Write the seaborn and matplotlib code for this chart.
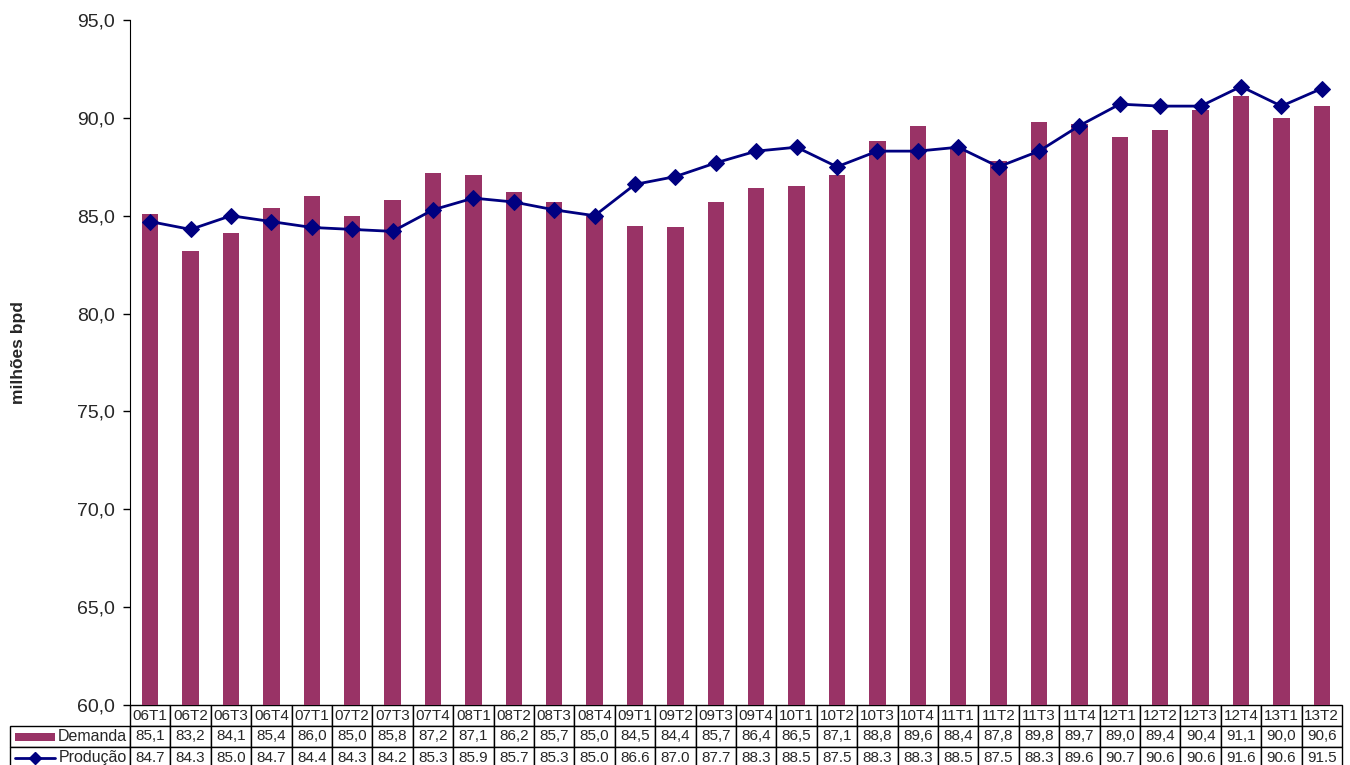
import numpy as np
import matplotlib
matplotlib.use("Agg")
import matplotlib.pyplot as plt
import seaborn as sns
from matplotlib.patches import Rectangle
from matplotlib.lines import Line2D
from matplotlib.ticker import FuncFormatter

# ==========================================
# dados (milhões bpd)
# ==========================================
trimestres = ["06T1", "06T2", "06T3", "06T4", "07T1", "07T2", "07T3", "07T4",
              "08T1", "08T2", "08T3", "08T4", "09T1", "09T2", "09T3", "09T4",
              "10T1", "10T2", "10T3", "10T4", "11T1", "11T2", "11T3", "11T4",
              "12T1", "12T2", "12T3", "12T4", "13T1", "13T2"]
demanda = [85.1, 83.2, 84.1, 85.4, 86.0, 85.0, 85.8, 87.2, 87.1, 86.2,
           85.7, 85.0, 84.5, 84.4, 85.7, 86.4, 86.5, 87.1, 88.8, 89.6,
           88.4, 87.8, 89.8, 89.7, 89.0, 89.4, 90.4, 91.1, 90.0, 90.6]
producao = [84.7, 84.3, 85.0, 84.7, 84.4, 84.3, 84.2, 85.3, 85.9, 85.7,
            85.3, 85.0, 86.6, 87.0, 87.7, 88.3, 88.5, 87.5, 88.3, 88.3,
            88.5, 87.5, 88.3, 89.6, 90.7, 90.6, 90.6, 91.6, 90.6, 91.5]

COR_DEMANDA = "#993366"
COR_PRODUCAO = "#000080"

sns.set_style("ticks")
plt.rcParams['font.family'] = ['Liberation Sans', 'DejaVu Sans']

W, H = 1350, 765
fig = plt.figure(figsize=(W / 100, H / 100), dpi=100)
ax_l, ax_b, ax_w, ax_h = 130, 60, 1212, 685
ax = fig.add_axes([ax_l / W, ax_b / H, ax_w / W, ax_h / H])

n = len(trimestres)
sns.barplot(x=trimestres, y=demanda, color=COR_DEMANDA, saturation=1,
            width=0.41, linewidth=0, ax=ax)
sns.lineplot(x=np.arange(n), y=producao, color=COR_PRODUCAO, marker="D",
             markersize=8, linewidth=2, markeredgecolor=COR_PRODUCAO, ax=ax)

ax.set_xlim(-0.5, n - 0.5)
ax.set_ylim(60, 95)
ax.set_yticks(np.arange(60, 96, 5))
ax.yaxis.set_major_formatter(FuncFormatter(lambda v, p: f"{v:.1f}".replace(".", ",")))
ax.tick_params(axis="y", labelsize=14, length=5, width=1, color="black", pad=6)
ax.set_xticks([])
ax.set_xlabel("")
ax.set_ylabel("milhões bpd", fontsize=12.5, fontweight="bold")
ax.yaxis.set_label_coords((26 - ax_l) / ax_w, 0.515)
for s in ["top", "right", "bottom"]:
    ax.spines[s].set_visible(False)
ax.spines["left"].set_color("black")

# ==========================================
# tabela de dados
# ==========================================
lab_w = 120
row_h = 21
cell_text = [[""] + trimestres,
             [""] + [f"{v:.1f}".replace(".", ",") for v in demanda],
             [""] + [f"{v:.1f}" for v in producao]]
col_w = [lab_w / ax_w] + [1 / n] * n
tbl = ax.table(cellText=cell_text, colWidths=col_w, cellLoc="center",
               bbox=[-lab_w / ax_w, -3 * row_h / ax_h, 1 + lab_w / ax_w, 3 * row_h / ax_h])
tbl.auto_set_font_size(False)
tbl.set_fontsize(11)
for (r, c), cell in tbl.get_celld().items():
    cell.set_linewidth(1)
    cell.set_edgecolor("black")
    cell.PAD = 0.02
tbl[(0, 0)].visible_edges = "open"

def yrow(i):
    return -(i + 0.5) * row_h / ax_h

def xpx(px):
    return (px - ax_l) / ax_w

for i, lab in [(1, "Demanda"), (2, "Produção")]:
    ax.text(xpx(127), yrow(i), lab, transform=ax.transAxes, ha="right",
            va="center", fontsize=11.5, clip_on=False)

ax.add_patch(Rectangle((xpx(15), yrow(1) - 4 / ax_h), 40 / ax_w, 8 / ax_h,
                       transform=ax.transAxes, facecolor=COR_DEMANDA,
                       edgecolor="none", clip_on=False))
ax.add_line(Line2D([xpx(15), xpx(55)], [yrow(2), yrow(2)], transform=ax.transAxes,
                   color=COR_PRODUCAO, linewidth=2, clip_on=False))
ax.add_line(Line2D([xpx(35)], [yrow(2)], transform=ax.transAxes, marker="D",
                   markersize=6, color=COR_PRODUCAO, clip_on=False))

fig.savefig("out.png", dpi=100)
